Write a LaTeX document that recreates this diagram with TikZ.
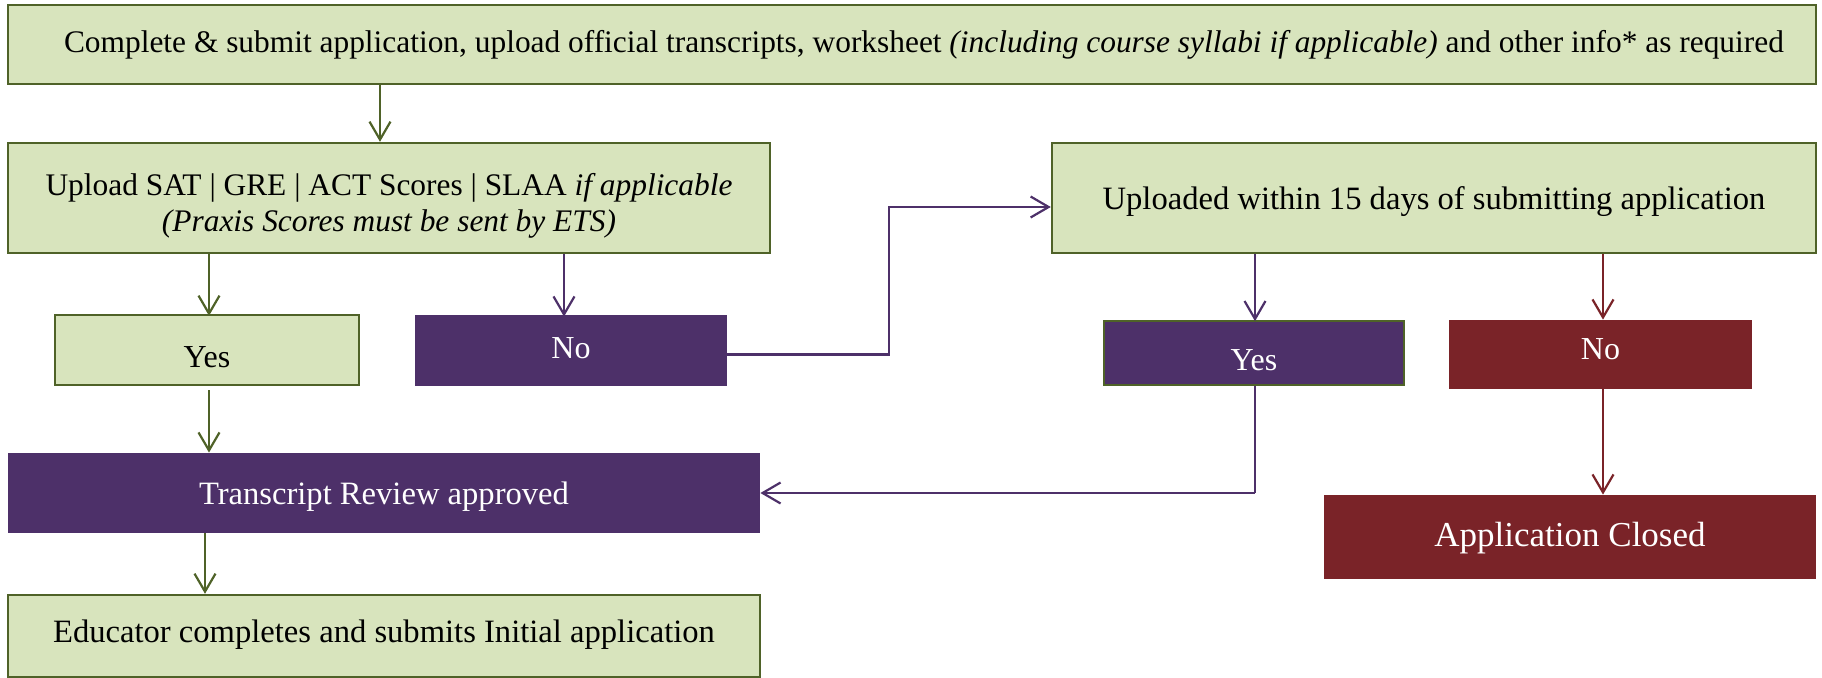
\documentclass[tikz,border=0pt]{standalone}
\usepackage{fontspec}
\setmainfont{Liberation Serif}
\usetikzlibrary{arrows.meta,calc}
\definecolor{gfill}{HTML}{D8E4BD}
\definecolor{gline}{HTML}{4F6228}
\definecolor{pfill}{HTML}{4D3069}
\definecolor{rfill}{HTML}{7A2328}
\newcommand\placetext[2]{\raisebox{#1}[0pt][0pt]{#2}}
\tikzset{
  gbox/.style={draw=gline,line width=1.2pt,fill=gfill,inner sep=0pt,align=center,text=black,font=\fontsize{16}{18}\selectfont},
  pbox/.style={fill=pfill,inner sep=0pt,align=center,text=white,font=\fontsize{16}{18}\selectfont},
  rbox/.style={fill=rfill,inner sep=0pt,align=center,text=white,font=\fontsize{16}{18}\selectfont},
  conn/.style={line width=1.1pt,-{Straight Barb[length=9pt,width=10.5pt,line width=1.1pt]}},
  garrow/.style={conn,draw=gline},
  parrow/.style={conn,draw=pfill},
  rarrow/.style={conn,draw=rfill},
  pline/.style={line width=1.1pt,draw=pfill},
}
\begin{document}
\begin{tikzpicture}[x=0.5pt,y=-0.5pt]
\useasboundingbox (0,0) rectangle (1822,678);
% boxes
\node[gbox,minimum width=904pt,minimum height=39.5pt,font=\fontsize{15.7}{18}\selectfont] (top) at (912,44.5)
  {\hspace*{12pt}\placetext{-4.2pt}{Complete \& submit application, upload official transcripts, worksheet \textit{(including course syllabi if applicable)} and other info* as required}};
\node[gbox,minimum width=381pt,minimum height=55pt,font=\fontsize{15.7}{18.3}\selectfont] (upload) at (389,198)
  {\placetext{1.3pt}{\begin{tabular}[t]{@{}c@{}}Upload SAT \textbar{} GRE \textbar{} ACT Scores \textbar{} SLAA \textit{if applicable}\\ \textit{(Praxis Scores must be sent by ETS)}\end{tabular}}};
\node[gbox,minimum width=382pt,minimum height=55pt,font=\fontsize{16.3}{18}\selectfont] (uploaded) at (1434,198)
  {\placetext{-6pt}{Uploaded within 15 days of submitting application}};
\node[gbox,minimum width=152pt,minimum height=35pt] (yes1) at (207,350) {\placetext{-8.8pt}{Yes}};
\node[pbox,minimum width=156pt,minimum height=35.5pt] (no1) at (571,350.5) {\placetext{-3.8pt}{No}};
\node[pbox,draw=gline,line width=0.8pt,minimum width=150pt,minimum height=32pt] (yes2) at (1254,353) {\placetext{-9pt}{Yes}};
\node[rbox,minimum width=151.5pt,minimum height=34.5pt] (no2) at (1600.5,354.5) {\placetext{-2.3pt}{No}};
\node[pbox,minimum width=376pt,minimum height=40pt,font=\fontsize{16.3}{18}\selectfont] (transcript) at (384,493) {\placetext{-5.6pt}{Transcript Review approved}};
\node[gbox,minimum width=376pt,minimum height=41pt,font=\fontsize{16.3}{18}\selectfont] (educator) at (384,636) {\placetext{-3.2pt}{Educator completes and submits Initial application}};
\node[rbox,minimum width=246pt,minimum height=42pt,font=\fontsize{17.5}{20}\selectfont] (closed) at (1570,537) {\placetext{-5pt}{Application Closed}};
% column coordinates
\coordinate (xa) at (380,0);
\coordinate (xb) at (209,0);
\coordinate (xc) at (564,0);
\coordinate (xd) at (889,0);
\coordinate (xe) at (1255,0);
\coordinate (xf) at (1603,0);
\coordinate (xg) at (205,0);
% connectors
\draw[garrow] (top.south -| xa) -- (upload.north -| xa);
\draw[garrow] (upload.south -| xb) -- ([yshift=-1pt]yes1.north -| xb);
\draw[parrow] (upload.south -| xc) -- ([yshift=-1pt]no1.north -| xc);
\draw[parrow] ([yshift=-2pt]no1.east) -- ([yshift=-2pt]no1.east -| xd) -- ([yshift=-4.5pt]uploaded.west -| xd) -- ([yshift=-4.5pt]uploaded.west);
\draw[garrow] ([yshift=-2pt]yes1.south -| xb) -- (transcript.north -| xb);
\draw[garrow] (transcript.south -| xg) -- (educator.north -| xg);
\draw[parrow] (uploaded.south -| xe) -- ([yshift=-0.5pt]yes2.north -| xe);
\draw[rarrow] (uploaded.south -| xf) -- (no2.north -| xf);
\draw[pline] (yes2.south -| xe) -- (transcript.east -| xe);
\draw[parrow] (transcript.east -| xe) -- (transcript.east);
\draw[rarrow] (no2.south -| xf) -- (closed.north -| xf);
\end{tikzpicture}
\end{document}
